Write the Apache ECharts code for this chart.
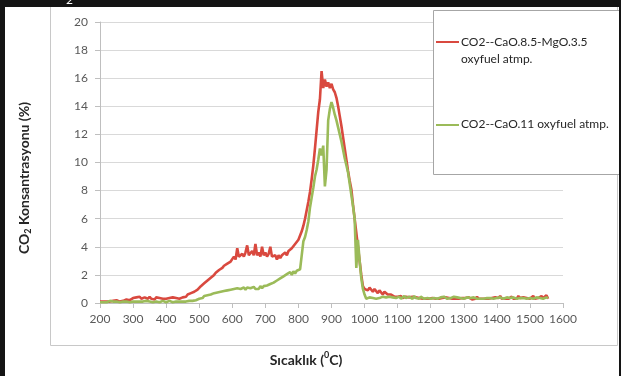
<!DOCTYPE html>
<html>
<head>
<meta charset="utf-8">
<script src="https://cdn.jsdelivr.net/npm/echarts@6/dist/echarts.min.js"></script>
<style>
  html, body { margin: 0; padding: 0; background: #ffffff; }
  #chart { width: 621px; height: 376px; }
</style>
</head>
<body>
<div id="chart"></div>
<script>
// Temperature sampling (°C): readings every 5 degrees from 200 to 1555
const T_START = 200;
const T_STEP = 5;

const xTicks = [200, 300, 400, 500, 600, 700, 800, 900, 1000, 1100, 1200, 1300, 1400, 1500, 1600];
const yTicks = [0, 2, 4, 6, 8, 10, 12, 14, 16, 18, 20];

const seriesNames = ['CO2--CaO.8.5-MgO.3.5 oxyfuel atmp.', 'CO2--CaO.11 oxyfuel atmp.'];

// CO2 concentration (%) — CaO.8.5-MgO.3.5 sample
const co2CaOMgO = [
  // 200-295
  0.1,0.15,0.1,0.2,0.1,0.15,0.1,0.2,0.15,0.1,0.2,0.15,0.1,0.2,0.15,0.2,0.25,0.15,0.2,0.25,
  // 300-445
  0.35,0.25,0.4,0.3,0.45,0.3,0.25,0.4,0.35,0.3,0.45,0.3,0.35,0.25,0.4,0.3,0.35,0.25,0.3,0.4,
  0.3,0.25,0.35,0.3,0.4,0.3,0.35,0.45,0.3,0.4,
  // 450-495
  0.4,0.5,0.45,0.6,0.5,0.7,0.6,0.8,0.75,0.95,
  // 500-595
  1.0,1.2,1.15,1.4,1.35,1.6,1.55,1.8,1.9,2.0,2.15,2.1,2.35,2.4,2.5,2.65,2.6,2.8,2.85,2.95,
  // 600-695
  3.0,3.3,3.1,3.9,3.3,3.2,3.5,3.3,3.6,4.1,3.4,3.3,3.7,3.4,4.2,3.4,3.6,3.3,4.0,3.4,
  // 700-795
  3.6,3.3,3.5,4.0,3.3,3.2,3.4,3.1,3.4,3.2,3.4,3.3,3.6,3.4,3.7,3.7,3.9,4.0,4.2,4.3,
  // 800-845
  4.5,4.8,5.1,5.5,6.0,6.6,7.2,7.9,8.8,9.8,
  // 850-895
  11.0,12.3,13.6,14.5,16.5,15.3,15.9,15.4,15.7,15.3,
  // 900-945
  15.6,15.2,15.0,14.6,14.0,13.3,12.6,11.8,11.0,10.2,
  // 950-995
  9.4,8.7,8.1,7.0,6.0,5.0,4.0,3.0,2.0,1.2,
  // 1000-1095
  1.0,1.1,0.9,1.1,1.0,0.8,1.0,0.9,0.7,0.9,0.8,0.6,0.8,0.7,0.6,0.5,0.6,0.5,0.45,0.5,
  // 1100-1195
  0.45,0.4,0.5,0.35,0.4,0.45,0.35,0.4,0.3,0.45,0.35,0.4,0.3,0.35,0.4,0.3,0.35,0.3,0.4,0.3,
  // 1200-1295
  0.3,0.35,0.25,0.3,0.4,0.3,0.25,0.35,0.3,0.4,0.3,0.35,0.25,0.3,0.35,0.3,0.4,0.3,0.25,0.35,
  // 1300-1395
  0.3,0.35,0.3,0.4,0.3,0.25,0.35,0.3,0.45,0.3,0.35,0.3,0.4,0.3,0.35,0.3,0.25,0.35,0.3,0.4,
  // 1400-1495
  0.3,0.35,0.5,0.3,0.35,0.3,0.4,0.3,0.35,0.45,0.3,0.35,0.3,0.5,0.35,0.3,0.4,0.3,0.35,0.45,
  // 1500-1555
  0.3,0.35,0.5,0.3,0.4,0.35,0.3,0.5,0.35,0.4,0.55,0.3
];

// CO2 concentration (%) — CaO.11 sample
const co2CaO = [
  // 200-295
  0.05,0.1,0.05,0.1,0.05,0.1,0.15,0.05,0.1,0.05,0.1,0.1,0.05,0.15,0.1,0.05,0.1,0.1,0.05,0.1,
  // 300-445
  0.1,0.05,0.1,0.15,0.1,0.05,0.1,0.1,0.15,0.05,0.1,0.1,0.05,0.15,0.1,0.1,0.05,0.1,0.15,0.1,
  0.05,0.1,0.15,0.1,0.05,0.1,0.1,0.15,0.1,0.1,
  // 450-495
  0.1,0.15,0.1,0.2,0.15,0.2,0.15,0.25,0.2,0.3,
  // 500-595
  0.3,0.4,0.35,0.5,0.4,0.55,0.45,0.6,0.55,0.7,0.6,0.75,0.65,0.8,0.7,0.85,0.75,0.9,0.8,0.95,
  // 600-695
  0.85,1.0,0.9,1.05,0.95,1.0,0.9,1.1,0.95,1.1,1.0,1.05,0.95,1.15,1.0,1.1,1.0,1.2,1.05,1.2,
  // 700-795
  1.1,1.25,1.15,1.35,1.25,1.45,1.4,1.6,1.5,1.75,1.65,1.9,1.8,2.05,1.95,2.2,2.0,2.25,2.1,2.3,
  // 800-845
  2.2,2.4,2.3,4.4,4.7,5.2,5.8,6.8,7.5,8.2,
  // 850-895
  9.0,9.5,10.2,11.0,10.5,11.2,8.3,9.5,13.0,13.8,
  // 900-945
  14.3,13.9,13.4,13.0,12.5,12.0,11.5,10.9,10.3,9.8,
  // 950-995
  9.3,8.5,7.7,6.9,6.0,2.5,4.5,3.0,1.8,1.0,
  // 1000-1095
  0.6,0.3,0.35,0.4,0.3,0.35,0.45,0.3,0.4,0.35,0.3,0.45,0.35,0.4,0.3,0.45,0.35,0.4,0.5,0.35,
  // 1100-1195
  0.35,0.45,0.3,0.4,0.5,0.35,0.3,0.45,0.4,0.3,0.5,0.35,0.4,0.3,0.45,0.35,0.3,0.4,0.35,0.45,
  // 1200-1295
  0.3,0.4,0.35,0.45,0.3,0.35,0.4,0.3,0.45,0.35,0.3,0.4,0.35,0.3,0.45,0.35,0.4,0.3,0.35,0.4,
  // 1300-1395
  0.3,0.35,0.4,0.3,0.35,0.3,0.4,0.35,0.3,0.4,0.3,0.35,0.3,0.4,0.35,0.3,0.35,0.4,0.3,0.35,
  // 1400-1495
  0.35,0.3,0.4,0.35,0.3,0.35,0.4,0.3,0.35,0.3,0.4,0.35,0.3,0.4,0.35,0.3,0.35,0.4,0.3,0.35,
  // 1500-1555
  0.35,0.4,0.3,0.35,0.4,0.3,0.35,0.4,0.3,0.35,0.4,0.35
];

const RED = '#d9493f';
const GREEN = '#9bbb59';
const FONT = 'Lato, "Liberation Sans", sans-serif';

function toPairs(values) {
  return values.map((v, i) => [T_START + i * T_STEP, v]);
}

const chart = echarts.init(document.getElementById('chart'), null, { renderer: 'canvas' });

chart.setOption({
  animation: false,
  backgroundColor: '#ffffff',
  grid: { left: 100, right: 58, top: 22, bottom: 73, containLabel: false },
  xAxis: {
    type: 'value',
    min: xTicks[0],
    max: xTicks[xTicks.length - 1],
    interval: 100,
    axisLine: { show: true, lineStyle: { color: '#bfbfbf', width: 1 } },
    axisTick: { show: true, length: 5, lineStyle: { color: '#bfbfbf' } },
    splitLine: { show: false },
    axisLabel: {
      color: '#595959', fontFamily: FONT, fontSize: 12, margin: 10,
      formatter: (v) => String(v)
    }
  },
  yAxis: {
    type: 'value',
    min: yTicks[0],
    max: yTicks[yTicks.length - 1],
    interval: 2,
    axisLine: { show: true, lineStyle: { color: '#bfbfbf', width: 1 } },
    axisTick: { show: true, length: 5, lineStyle: { color: '#bfbfbf' } },
    splitLine: { show: true, lineStyle: { color: '#d9d9d9', width: 1 } },
    axisLabel: { color: '#595959', fontFamily: FONT, fontSize: 12, margin: 12 }
  },
  series: [
    {
      name: seriesNames[0],
      type: 'line',
      data: toPairs(co2CaOMgO),
      showSymbol: false,
      lineStyle: { color: RED, width: 2.6 },
      itemStyle: { color: RED },
      z: 2
    },
    {
      name: seriesNames[1],
      type: 'line',
      data: toPairs(co2CaO),
      showSymbol: false,
      lineStyle: { color: GREEN, width: 2.6 },
      itemStyle: { color: GREEN },
      z: 3
    }
  ],
  graphic: [
    // outer chart frame
    { type: 'rect', z: -1, shape: { x: 50.5, y: 2.5, width: 567, height: 343 },
      style: { fill: null, stroke: '#c8c8c8', lineWidth: 1 } },
    // legend box
    { type: 'rect', z: 10, shape: { x: 433.5, y: 10.5, width: 200, height: 164 },
      style: { fill: '#ffffff', stroke: '#a6a6a6', lineWidth: 1 } },
    { type: 'line', z: 11, shape: { x1: 436, y1: 42, x2: 459, y2: 42 },
      style: { stroke: RED, lineWidth: 2 } },
    { type: 'text', z: 11, left: 461, top: 34,
      style: { text: 'CO2--CaO.8.5-MgO.3.5\noxyfuel atmp.', fill: '#262626',
               font: '12px ' + FONT, lineHeight: 17 } },
    { type: 'line', z: 11, shape: { x1: 436, y1: 125, x2: 459, y2: 125 },
      style: { stroke: GREEN, lineWidth: 2 } },
    { type: 'text', z: 11, left: 461, top: 118,
      style: { text: 'CO2--CaO.11 oxyfuel atmp.', fill: '#262626', font: '12px ' + FONT } },
    // y axis title
    { type: 'text', z: 11, x: 24, y: 178, rotation: Math.PI / 2,
      style: {
        text: '{b|CO}{s|2}{b| Konsantrasyonu (%)}',
        align: 'center', verticalAlign: 'middle',
        rich: {
          b: { font: 'bold 14px ' + FONT, fill: '#262626', lineHeight: 18 },
          s: { font: 'bold 9px ' + FONT, fill: '#262626', lineHeight: 18, verticalAlign: 'bottom', padding: [6, 0, 0, 0] }
        }
      } },
    // x axis title
    { type: 'text', z: 11, x: 306, y: 360,
      style: {
        text: '{b|Sıcaklık (}{p|0}{b|C)}',
        align: 'center', verticalAlign: 'middle',
        rich: {
          b: { font: 'bold 14px ' + FONT, fill: '#262626', lineHeight: 18 },
          p: { font: 'bold 9px ' + FONT, fill: '#262626', lineHeight: 18, verticalAlign: 'top', padding: [0, 0, 6, 0] }
        }
      } },
    // scan border bands
    { type: 'rect', z: 100, shape: { x: 0, y: 0, width: 621, height: 7 }, style: { fill: '#141414' } },
    { type: 'rect', z: 100, shape: { x: 0, y: 0, width: 5, height: 376 }, style: { fill: '#141414' } },
    { type: 'rect', z: 100, shape: { x: 619, y: 0, width: 2, height: 376 }, style: { fill: '#141414' } },
    { type: 'text', z: 101, x: 66, y: -6,
      style: { text: '2', fill: '#ffffff', font: '12px ' + FONT } }
  ]
});
</script>
</body>
</html>
